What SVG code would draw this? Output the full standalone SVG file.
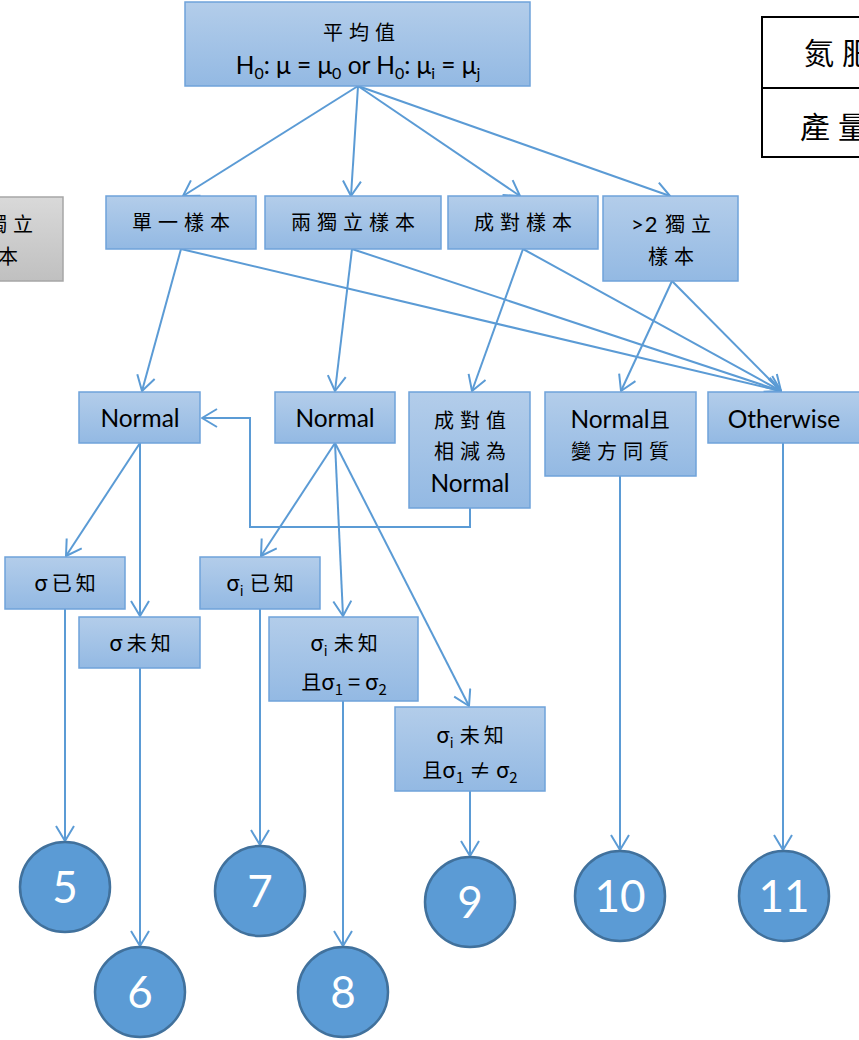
<svg xmlns="http://www.w3.org/2000/svg" width="859" height="1040" viewBox="0 0 859 1040">
<style>
.box{fill:url(#bg);stroke:#6fa3da;stroke-width:1.5}
.gray{fill:url(#gg);stroke:#a6a6a6;stroke-width:1.5}
.cj{font-family:"Noto Sans CJK TC","Noto Sans CJK SC",sans-serif;font-size:20px;fill:#000;text-anchor:middle;letter-spacing:6px}
.lt{font-family:Lato,"Open Sans",sans-serif;font-size:24.5px;fill:#000;text-anchor:middle}
.mx{font-family:"Noto Sans CJK TC",Lato,sans-serif;font-size:22px;fill:#000;text-anchor:middle}
.cir{fill:#5b9bd5;stroke:#41719c;stroke-width:2.5}
.num{font-family:Lato,"Open Sans",sans-serif;font-size:44px;fill:#fff;text-anchor:middle}
.c{fill:none;stroke:#5b9bd5;stroke-width:2;marker-end:url(#ah)}
.tbl{fill:none;stroke:#000;stroke-width:2}
.tt{font-family:"Noto Sans CJK TC",serif;font-size:30px;fill:#000;letter-spacing:8px}
.gt{letter-spacing:1px;font-family:Lato,sans-serif;font-size:22px}
</style>
<defs>
<linearGradient id="bg" x1="0" y1="0" x2="0" y2="1">
<stop offset="0" stop-color="#b3cdea"/>
<stop offset="1" stop-color="#93b9e3"/>
</linearGradient>
<linearGradient id="gg" x1="0" y1="0" x2="0" y2="1">
<stop offset="0" stop-color="#d9d9d9"/>
<stop offset="1" stop-color="#c0c0c0"/>
</linearGradient>
<marker id="ah" viewBox="0 0 18 20" refX="16" refY="10" markerWidth="18" markerHeight="20" markerUnits="userSpaceOnUse" orient="auto">
<path d="M1,1 L16,10 L1,19" fill="none" stroke="#5b9bd5" stroke-width="2" stroke-linejoin="round"/>
</marker>
</defs>

<g id="table">
<rect class="tbl" x="762" y="17" width="130" height="140"/>
<line class="tbl" x1="762" y1="88" x2="892" y2="88"/>
<text class="tt" x="804" y="64">氮肥</text>
<text class="tt" x="800" y="138">產量</text>
</g>

<g id="connectors">
<line class="c" x1="358" y1="86" x2="183" y2="196"/>
<line class="c" x1="358" y1="86" x2="351" y2="196"/>
<line class="c" x1="358" y1="86" x2="520" y2="196"/>
<line class="c" x1="358" y1="86" x2="670" y2="196"/>
<line class="c" x1="181" y1="249" x2="142" y2="391"/>
<line class="c" x1="181" y1="249" x2="781" y2="391"/>
<line class="c" x1="352" y1="249" x2="335" y2="391"/>
<line class="c" x1="352" y1="249" x2="781" y2="391"/>
<line class="c" x1="523" y1="249" x2="472" y2="391"/>
<line class="c" x1="523" y1="249" x2="781" y2="391"/>
<line class="c" x1="672" y1="281" x2="621" y2="391"/>
<line class="c" x1="672" y1="281" x2="781" y2="391"/>
<polyline class="c" points="470,508 470,527 250,527 250,418 202,418"/>
<line class="c" x1="140" y1="443" x2="66" y2="556"/>
<line class="c" x1="140" y1="443" x2="140" y2="616"/>
<line class="c" x1="335" y1="443" x2="261" y2="556"/>
<line class="c" x1="335" y1="443" x2="343" y2="616"/>
<line class="c" x1="335" y1="443" x2="469" y2="706"/>
<line class="c" x1="65" y1="609" x2="65" y2="841"/>
<line class="c" x1="140" y1="668" x2="140" y2="946"/>
<line class="c" x1="260" y1="609" x2="260" y2="845"/>
<line class="c" x1="343" y1="701" x2="343" y2="946"/>
<line class="c" x1="470" y1="791" x2="470" y2="856"/>
<line class="c" x1="620" y1="476" x2="620" y2="850"/>
<line class="c" x1="783" y1="443" x2="783" y2="850"/>
</g>

<g id="n-top">
<rect class="box" x="185" y="2" width="345" height="84"/>
<text class="cj" x="362" y="40" font-size="22" letter-spacing="8">平均值</text>
<text class="lt" x="358" y="74" font-size="24">H<tspan font-size="16" dy="5">0</tspan><tspan dy="-5">: μ = μ</tspan><tspan font-size="16" dy="5">0</tspan><tspan dy="-5"> or H</tspan><tspan font-size="16" dy="5">0</tspan><tspan dy="-5">: μ</tspan><tspan font-size="16" dy="5">i</tspan><tspan dy="-5"> = μ</tspan><tspan font-size="16" dy="5">j</tspan></text>
</g>

<g id="n-gray">
<rect class="gray" x="-71" y="197" width="134" height="84"/>
<text class="cj" x="-4" y="232"><tspan class="gt">&gt;2 </tspan>獨立</text>
<text class="cj" x="-2" y="264">樣本</text>
</g>

<g id="n-single">
<rect class="box" x="106" y="196" width="150" height="53"/>
<text class="cj" x="184" y="230">單一樣本</text>
</g>
<g id="n-two">
<rect class="box" x="265" y="196" width="176" height="53"/>
<text class="cj" x="356" y="230">兩獨立樣本</text>
</g>
<g id="n-paired">
<rect class="box" x="448" y="196" width="150" height="53"/>
<text class="cj" x="526" y="230">成對樣本</text>
</g>
<g id="n-more">
<rect class="box" x="603" y="196" width="135" height="85"/>
<text class="cj" x="674" y="232"><tspan class="gt">&gt;2 </tspan>獨立</text>
<text class="cj" x="674" y="264">樣本</text>
</g>

<g id="n-normal1">
<rect class="box" x="79" y="392" width="121" height="51"/>
<text class="lt" x="140" y="427">Normal</text>
</g>
<g id="n-normal2">
<rect class="box" x="275" y="392" width="120" height="51"/>
<text class="lt" x="335" y="427">Normal</text>
</g>
<g id="n-diff">
<rect class="box" x="409" y="392" width="121" height="116"/>
<text class="cj" x="473" y="428">成對值</text>
<text class="cj" x="473" y="459">相減為</text>
<text class="lt" x="470" y="492">Normal</text>
</g>
<g id="n-normaleq">
<rect class="box" x="545" y="392" width="151" height="84"/>
<text class="lt" x="620" y="428">Normal<tspan font-family="Noto Sans CJK TC" font-size="20">且</tspan></text>
<text class="cj" x="623" y="459">變方同質</text>
</g>
<g id="n-other">
<rect class="box" x="708" y="392" width="160" height="51"/>
<text class="lt" x="784" y="428">Otherwise</text>
</g>

<g id="n-s-known">
<rect class="box" x="5" y="557" width="120" height="52"/>
<text class="mx" x="65" y="591">σ<tspan font-size="20" dx="4">已</tspan><tspan font-size="20" dx="4">知</tspan></text>
</g>
<g id="n-s-unknown">
<rect class="box" x="79" y="617" width="121" height="51"/>
<text class="mx" x="140" y="651">σ<tspan font-size="20" dx="4">未</tspan><tspan font-size="20" dx="4">知</tspan></text>
</g>
<g id="n-si-known">
<rect class="box" x="200" y="557" width="120" height="52"/>
<text class="mx" x="260" y="591">σ<tspan font-size="14" dy="5">i</tspan><tspan dy="-5" dx="6" font-size="20">已</tspan><tspan font-size="20" dx="4">知</tspan></text>
</g>
<g id="n-si-eq">
<rect class="box" x="269" y="617" width="149" height="84"/>
<text class="mx" x="344" y="651">σ<tspan font-size="14" dy="5">i</tspan><tspan dy="-5" dx="6" font-size="20">未</tspan><tspan font-size="20" dx="4">知</tspan></text>
<text class="mx" x="344" y="690"><tspan font-size="20">且</tspan>σ<tspan font-size="15" dy="5">1</tspan><tspan dy="-5"> = σ</tspan><tspan font-size="15" dy="5">2</tspan></text>
</g>
<g id="n-si-neq">
<rect class="box" x="395" y="707" width="150" height="84"/>
<text class="mx" x="470" y="743">σ<tspan font-size="14" dy="5">i</tspan><tspan dy="-5" dx="6" font-size="20">未</tspan><tspan font-size="20" dx="4">知</tspan></text>
<text class="mx" x="470" y="778"><tspan font-size="20">且</tspan>σ<tspan font-size="15" dy="5">1</tspan><tspan dy="-5"> ≠ σ</tspan><tspan font-size="15" dy="5">2</tspan></text>
</g>

<g id="c5"><circle class="cir" cx="65" cy="887" r="45"/><text class="num" x="65" y="903">5</text></g>
<g id="c6"><circle class="cir" cx="140" cy="992" r="45"/><text class="num" x="140" y="1008">6</text></g>
<g id="c7"><circle class="cir" cx="260" cy="891" r="45"/><text class="num" x="260" y="907">7</text></g>
<g id="c8"><circle class="cir" cx="343" cy="992" r="45"/><text class="num" x="343" y="1008">8</text></g>
<g id="c9"><circle class="cir" cx="470" cy="902" r="45"/><text class="num" x="470" y="918">9</text></g>
<g id="c10"><circle class="cir" cx="620" cy="896" r="45"/><text class="num" x="620" y="912">10</text></g>
<g id="c11"><circle class="cir" cx="784" cy="896" r="45"/><text class="num" x="784" y="912">11</text></g>
</svg>
